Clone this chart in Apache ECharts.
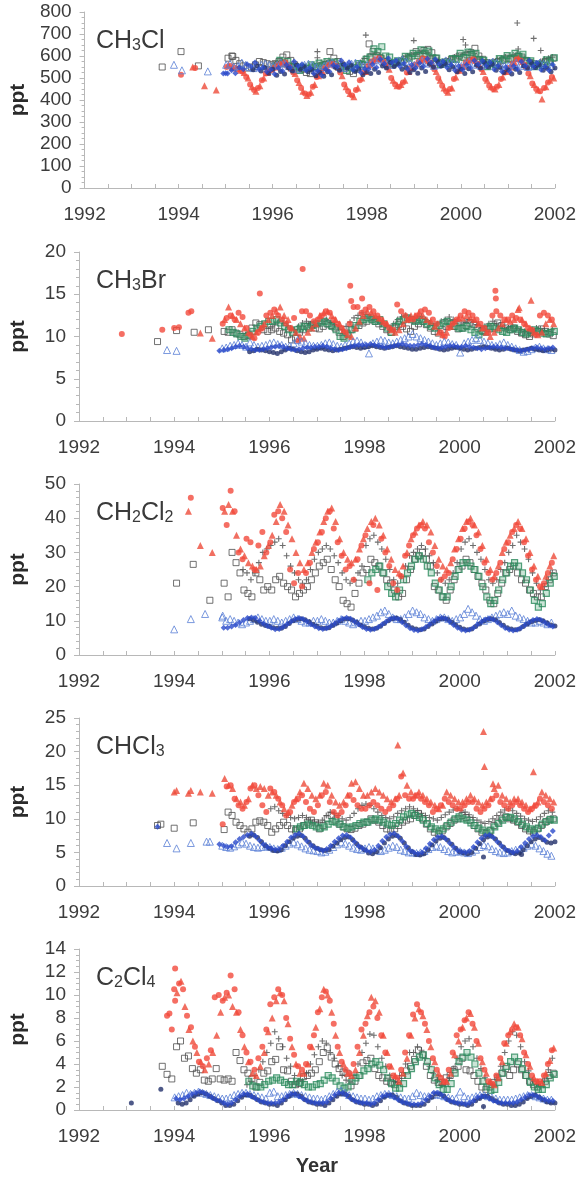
<!DOCTYPE html>
<html><head><meta charset="utf-8">
<script src="https://cdn.jsdelivr.net/npm/echarts@6/dist/echarts.min.js"></script>
<style>html,body{margin:0;padding:0;background:#fff}#c{width:579px;height:1177px}</style>
</head><body><div id="c"></div>
<script>
// ---------------- DATA (ppt) ----------------
// Monthly series arrays: 12 values per year, starting at the year given in the panel table.
// ===== CH3Cl =====
const CH3Cl_redC = [
550,555,548,540,530,505,470,445,455,490,520,535,
545,560,565,570,550,525,490,455,430,425,460,505,
525,545,560,565,555,525,470,440,420,445,490,525,
555,575,585,590,575,550,500,470,460,480,525,545,
560,575,590,585,570,540,500,465,440,450,495,530,
550,570,580,585,565,540,495,465,450,460,495,525,
545,565,585,580,560,520,475,450,440,455,480,505];
const CH3Cl_redT = [
560,550,545,535,525,500,460,440,465,500,525,540,
550,565,570,560,545,520,480,440,420,435,470,510,
530,550,565,560,550,510,460,430,415,455,500,530,
560,580,590,585,570,540,490,465,470,490,530,550,
565,580,585,580,565,530,490,455,435,455,505,535,
555,575,585,580,560,530,490,460,450,470,505,530,
550,570,590,575,555,510,470,445,405,460,490,500];
const CH3Cl_bDia = [
520,535,522,548,540,562,552,570,540,548,528,538,
518,545,532,560,548,575,555,562,535,545,520,532,
512,540,530,558,552,580,560,572,538,550,525,542,
540,562,548,585,565,590,570,580,552,565,540,560,
545,568,552,588,570,585,562,575,548,560,535,555,
538,560,545,580,562,578,556,570,540,555,530,550,
530,555,540,575,555,580,552,568,538,552,535,560];
const CH3Cl_navy = [
null,null,null,null,null,null,538,556,532,545,522,540,
512,530,518,545,532,560,540,552,528,538,510,525,
508,528,515,548,535,562,545,558,530,540,515,528,
520,540,525,555,545,570,552,565,540,548,525,538,
522,545,530,562,550,575,555,565,538,550,528,540,
520,542,528,558,545,570,550,562,535,548,525,538,
518,540,525,555,545,568,548,560,535,545,528,545];
const CH3Cl_bTri = [
560,565,550,555,570,560,550,545,555,560,565,560,
555,560,570,565,555,545,540,550,560,565,560,550,
545,555,565,570,560,550,545,555,565,570,565,555,
560,570,580,585,575,565,560,570,580,585,575,565,
560,570,580,575,565,555,560,570,580,575,565,560,
555,565,575,570,560,555,560,570,575,570,560,555,
555,560,570,565,555,550,555,565,570,565,560,555];
const CH3Cl_green = [
555,580,565,575,548,552,535,550,545,560,552,568,
555,575,568,572,550,552,535,550,545,565,562,585,
595,632,620,642,600,595,568,578,572,598,590,612,
602,628,612,622,592,590,562,572,565,588,585,612,
592,618,605,612,582,580,552,568,562,588,582,602,
588,612,598,608,578,578,552,562,558,582,572,592];
const CH3Cl_sq = [
590,600,580,565,555,545,550,560,575,570,565,560,
565,575,595,605,580,560,545,540,525,520,535,545,
550,560,620,590,575,560,545,530,520,540,560,575,
655,620,600,590,575,565,560,570,575,585,595,600,
620,610,625,630,615,590,570,565,575,585,590,600,
595,605,615,635,600,585,570,565,570,575,580,590,
585,590,600,595,580,570,565,560,565,575,580,590];
const CH3Cl_plus = [
565,575,580,570,560,550,545,540,545,555,560,565,
570,575,580,575,565,555,550,545,550,560,570,590,
600,610,615,605,590,580,575,575,580,590,600,605,
610,615,620,610,600,590,580,575,580,585,595,600,
605,615,620,610,595,585,575,570,575,585,590,595,
600,605,610,600,590,580,570,565,575,585,590,595];
// isolated samples [year, ppt]
const CH3Cl_sq_x   = [[1993.65,550],[1994.05,620],[1994.42,555],[1995.15,598]];
const CH3Cl_bTri_x = [[1993.9,560],[1994.07,535],[1994.62,530]];
const CH3Cl_redT_x = [[1994.3,550],[1994.55,465],[1994.8,445]];
const CH3Cl_redC_x = [[1994.05,515],[1994.35,545]];
const CH3Cl_bDia_x = [[1994.95,520],[1995.0,522]];
const CH3Cl_plus_x = [[1996.95,620],[1996.95,592],[1997.98,695],[1999.0,670],[2000.05,675],[2000.1,650],[2001.2,750],[2001.22,632],[2001.55,680],[2001.7,625]];

// ===== CH3Br =====
const CH3Br_redC = [
11.5,12.2,12.5,12.0,12.8,12.3,11.0,10.2,9.8,10.5,11.0,12.5,
12.8,13.2,12.5,12.0,11.5,11.0,12.2,9.5,13.0,13.0,12.5,11.8,
12.0,12.5,13.0,12.8,12.0,11.5,11.0,10.5,11.5,13.5,13.5,12.8,
13.2,13.5,13.0,12.5,12.0,11.5,11.0,10.8,13.8,13.0,12.5,12.0,
12.0,12.5,13.0,13.2,12.8,12.0,11.5,10.5,10.0,11.0,11.5,12.0,
12.5,13.0,12.8,12.5,12.0,11.5,11.0,10.5,12.5,13.0,12.5,12.0,
12.0,12.5,12.2,12.0,11.5,11.0,10.8,10.2,12.5,12.8,12.5,12.0];
const CH3Br_redT = [
12.0,13.5,12.5,12.0,11.5,11.0,10.5,10.0,10.5,11.0,11.5,12.0,
12.5,13.0,13.5,12.5,12.0,11.0,10.5,10.0,9.8,10.5,11.0,11.5,
12.5,12.8,13.0,12.5,12.0,11.5,10.8,10.2,10.0,11.0,11.8,12.5,
13.0,12.8,12.5,12.2,11.8,11.5,10.8,10.5,10.8,11.5,12.0,12.5,
12.5,12.8,12.5,12.0,11.8,11.2,10.5,10.2,10.5,11.2,11.8,12.2,
12.2,12.5,12.2,12.0,11.5,11.0,10.5,10.0,10.5,11.0,11.5,12.0,
11.8,12.0,13.2,12.0,11.5,11.0,10.5,10.2,10.5,11.5,12.0,11.5];
const CH3Br_bDia = [
8.4,8.5,8.6,8.8,8.9,8.8,8.6,8.5,8.4,8.4,8.5,8.6,
8.7,8.8,8.9,8.8,8.6,8.5,8.4,8.5,8.6,8.7,8.7,8.8,
8.8,8.9,8.8,8.6,8.5,8.4,8.5,8.6,8.8,8.9,9.0,9.0,
9.0,9.1,9.0,8.9,8.8,8.7,8.8,8.9,9.0,9.1,9.0,8.9,
8.9,9.0,9.1,9.0,8.9,8.7,8.6,8.7,8.8,8.9,8.9,8.8,
8.8,8.9,8.8,8.7,8.6,8.5,8.6,8.7,8.8,8.8,8.7,8.6,
8.6,8.5,8.4,8.3,8.4,8.5,8.6,8.7,8.6,8.5,8.6,8.7];
const CH3Br_navy = [
null,null,null,null,null,null,8.2,8.3,8.5,8.4,8.3,8.2,
8.1,8.0,8.2,8.4,8.6,8.5,8.3,8.2,8.1,8.2,8.4,8.5,
8.6,8.5,8.4,8.3,8.4,8.5,8.6,8.7,8.8,8.7,8.6,8.7,
8.8,8.9,8.8,8.7,8.6,8.7,8.8,8.9,8.8,8.7,8.6,8.5,
8.5,8.6,8.7,8.8,8.7,8.6,8.5,8.4,8.5,8.6,8.7,8.6,
8.5,8.4,8.5,8.6,8.7,8.8,8.7,8.6,8.5,8.4,8.5,8.6,
8.5,8.4,8.3,8.4,8.5,8.6,8.5,8.4,8.3,8.4,8.5,8.4];
const CH3Br_bTri = [
8.6,8.7,8.9,9.0,9.2,9.0,8.8,9.3,9.0,8.8,8.9,9.0,
9.2,9.3,9.1,9.0,8.8,8.9,9.2,9.6,9.4,9.2,9.0,8.9,
8.9,9.0,9.2,9.3,9.1,8.9,8.8,9.0,9.2,9.4,9.5,9.3,
9.0,8.0,9.2,9.4,9.6,9.5,9.3,9.2,9.4,9.6,9.8,10.0,
10.3,10.0,9.8,9.6,9.4,9.2,9.0,9.2,9.4,9.3,9.1,9.0,
8.1,9.2,9.4,9.6,9.8,9.6,9.4,9.2,9.0,8.9,9.1,9.3,
9.0,8.8,8.6,8.4,8.2,8.3,8.5,8.7,8.8,8.6,8.5,8.4];
const CH3Br_sq = [
10.6,10.5,10.8,10.4,10.2,10.0,10.1,11.0,11.6,11.4,10.8,10.6,
10.8,11.0,10.6,10.4,10.2,9.6,9.8,10.5,10.8,11.2,11.4,11.0,
10.9,11.2,11.5,11.3,11.0,10.5,10.0,10.4,10.8,11.0,11.3,11.6,
11.8,12.2,11.8,11.5,11.2,10.8,10.5,11.0,11.4,11.2,10.9,10.6,
11.2,11.5,11.8,11.4,11.0,10.6,10.4,10.8,11.2,11.5,11.2,10.9,
11.0,11.3,11.6,11.4,11.0,10.7,10.5,10.9,11.2,11.6,11.3,11.0,
10.8,11.0,10.6,10.4,10.2,10.0,10.3,10.6,10.9,10.6,10.3,10.1];
const CH3Br_green = [
null,10.8,10.5,10.3,10.0,9.8,10.2,10.6,11.0,11.2,11.5,11.8,
11.8,12.0,11.6,11.2,10.8,10.5,10.8,11.0,11.2,11.0,11.3,11.5,
11.6,11.8,11.5,11.2,10.8,10.0,9.8,10.2,10.8,11.3,11.8,12.0,
12.2,12.0,11.8,12.0,11.5,11.0,10.5,11.2,11.8,12.0,12.2,12.0,
11.8,12.0,11.8,11.5,11.2,11.0,11.3,11.6,11.8,11.5,11.2,11.0,
11.0,11.2,10.8,10.5,10.2,10.6,11.0,11.2,11.0,10.8,10.6,10.5,
10.8,11.0,10.8,10.5,10.3,10.5,10.8,10.6,10.4,10.3,10.5,10.6];
const CH3Br_plus = [
11.0,11.5,11.8,11.6,11.3,11.0,10.8,11.2,11.6,11.8,11.5,11.3,
11.5,11.8,12.0,11.7,11.4,11.0,10.8,11.2,11.7,12.2,12.5,12.8,
12.6,12.3,12.0,11.8,11.5,11.3,11.0,11.5,12.0,12.3,12.5,12.2,
12.0,12.2,12.4,12.0,11.6,11.3,11.5,11.8,12.0,12.3,12.0,11.8,
11.6,11.8,12.0,11.7,11.4,11.0,11.2,11.5,11.8,11.5,11.2,11.0,
11.0,11.2,11.0,10.8,10.6,10.5,10.8,11.0,10.9,10.7,10.6,10.8];
const CH3Br_redC_x = [[1992.9,10.3],[1993.75,10.8],[1994.0,11.0],[1994.1,11.1],[1994.3,12.8],[1994.36,13.0],[1995.8,15.1],[1996.7,18.0],[1997.7,16.0],[1997.72,14.2],[1997.95,14.5],[2000.75,15.4],[2000.76,14.5]];
const CH3Br_redT_x = [[1994.55,10.4],[1994.8,9.8],[2001.5,14.3],[2001.25,13.4]];
const CH3Br_sq_x   = [[1993.65,9.4],[1994.05,10.7],[1994.42,10.5],[1994.72,10.8]];
const CH3Br_bTri_x = [[1993.85,8.4],[1994.05,8.3]];
const CH3Br_bDia_x = [[1994.95,8.3]];

// ===== CH2Cl2 =====
const CH2Cl2_redC = [
43,38,48,42,30,28,34,33,25,32,36,30,
33,41,42,40,36,25,21,24,20,24,27,31,
33,36,40,42,37,33,29,25,26,22,28,32,
35,21,38,19,34,30,26,21,19,23,29,32,
35,37,38,37,33,30,26,22,23,24,28,31,
34,37,39,38,35,31,27,24,22,24,27,31,
33,36,38,37,33,29,25,22,20,21,24,27];
const CH2Cl2_redT = [
42,44,42,35,31,29,27,26,25,26,29,32,
35,39,44,42,38,34,30,27,25,27,30,33,
36,39,42,43,39,34,30,28,27,28,31,34,
37,39,40,38,35,31,28,25,24,26,30,34,
36,38,39,38,36,32,28,26,25,27,31,34,
37,39,40,38,36,32,28,25,23,26,30,33,
35,37,39,37,34,30,26,23,20,23,26,29];
const CH2Cl2_plus = [
null,null,null,null,null,25,24,22,24,27,30,31,
32,33,34,32,29,26,24,22,21,22,25,28,
30,31,32,31,29,27,24,22,21,22,24,26,
32,34,35,33,31,28,25,22,21,23,26,29,
30,31,32,31,29,27,24,22,21,22,24,27,
31,33,34,32,30,28,25,22,21,22,25,27,
30,32,35,33,31,28,24,21,19,20,22,24];
const CH2Cl2_sq = [
21,17,30,27,24,19,18,17,24,22,19,20,
19,22,23,21,20,19,17,18,19,20,22,24,
26,27,28,25,22,20,16,15,14,18,21,24,
25,28,27,26,24,22,21,19,17,18,22,25,
28,29,30,28,26,20,19,17,16,19,22,25,
26,28,27,25,23,21,19,16,15,18,21,24,
25,26,24,22,21,19,18,17,17,20,22,24];
const CH2Cl2_green = [
22,24,25,26,24,20,18,17,19,22,24,26,
28,29,28,26,24,21,19,17,17,20,23,25,
27,27,26,25,23,20,17,15,16,19,22,24,
26,27,26,24,22,19,16,14,15,18,21,23];
const CH2Cl2_bTri = [
11,10,10.5,10,9.5,9,9.5,10,10.5,11,10.5,10,
10,10.5,10,9.5,10,10.5,11,10.5,10,9.5,9.5,10,
10,10.5,10,9.5,9.5,10,10.5,10,9.5,9,9.5,10,
10,10.5,11,11.5,12.5,13,12,11,10.5,10.5,11,12,
13,12.5,12,11,10.5,10,10.5,11,11,10.5,10,10.5,
11,12,13.5,12.5,11.5,10.5,10,10.5,11,11.5,12,12.5,
12,13,11.5,11,10.5,10,9.5,9.5,10,9.5,9,9.5];
const CH2Cl2_bDia = [
8.0,8.0,8.3,8.8,9.5,10.2,10.8,11.0,10.8,10.0,9.2,8.5,
8.0,7.5,7.6,8.2,9.0,9.8,10.5,10.8,10.5,9.8,9.0,8.3,
7.8,7.6,7.8,8.4,9.2,10.0,10.6,10.9,10.6,9.8,9.0,8.2,
7.6,7.4,7.6,8.2,9.0,9.8,10.5,10.8,10.5,9.6,8.6,7.8,
7.3,7.2,7.5,8.2,9.0,9.9,10.6,10.9,10.6,9.8,8.8,8.0,
7.4,7.2,7.4,8.0,8.9,9.7,10.4,10.7,10.4,9.6,8.7,7.9,
7.4,7.2,7.4,8.0,8.8,9.6,10.2,10.5,10.2,9.5,8.8,8.3];
const CH2Cl2_navy = [
null,null,null,null,null,null,10.6,10.2,9.6,9.0,8.6,8.3,
8.0,7.8,7.8,8.3,9.2,10.0,10.4,10.6,10.3,9.7,9.0,8.4,
8.0,7.8,8.0,8.6,9.3,10.0,10.5,10.6,10.2,9.6,8.8,8.2,
7.8,7.6,7.8,8.4,9.2,10.0,10.6,10.8,10.4,9.6,8.7,8.0,
7.6,7.4,7.6,8.3,9.1,9.9,10.5,10.7,10.4,9.6,8.8,8.1,
7.6,7.4,7.6,8.3,9.1,9.9,10.4,10.6,10.3,9.5,8.7,8.0,
7.6,7.4,7.6,8.3,9.0,9.7,10.1,10.3,10.0,9.4,8.8,8.5];
const CH2Cl2_redT_x = [[1994.3,42],[1994.55,32],[1994.8,30]];
const CH2Cl2_redC_x = [[1994.35,46]];
const CH2Cl2_sq_x   = [[1994.05,21],[1994.4,26.5],[1994.75,16]];
const CH2Cl2_bTri_x = [[1994.0,7.5],[1994.35,10.5],[1994.65,12],[1995.02,11.5]];

// ===== CHCl3 =====
const CHCl3_redT = [
16,15,14.5,13,12.5,12,13,15,14.5,14.8,14.5,13.5,
14,13.5,12.5,11.5,11,12,13,14,15.3,14.5,13.5,13,
13.5,15.3,15,13.5,12.5,12,12.5,13.5,15.3,15.5,14.5,13.5,
13.5,14,14.5,14,13.5,13,12.5,13,13.5,16.8,15,14,
13.5,14,13.5,13,12.5,12,11.5,12,14,13.5,13,12.5,
12.5,13,13.5,13,12.5,12,12.5,13,14.5,15,13.5,13,
12.5,13,13,12.5,12,11.5,12,12.5,14,13.5,13,12.5];
const CHCl3_redC = [
9.2,14.8,15,13,12,11.5,12.5,14.5,15,13.5,12,11,
14.5,14,13,12,10.5,11,12.5,13,13.5,12.5,11.5,11,
12,13.5,14,12.5,11,10.5,11,12,13.5,12.8,12,11.5,
11.5,12,12.5,12,11.5,11,11.5,12,13,16.3,13.5,13,
13,13.5,13,12.5,12,11,11.5,12,13,12.5,12,11.5,
11.5,12,12.5,12.5,11.5,11,11.5,12,13,13.5,12.5,12,
11.5,12,12.5,12,11.5,11,11.5,12,13,12.5,12,11.5];
const CHCl3_sq = [
8.4,11,10.5,9.5,9,8.5,8,8.5,9.5,9.7,9.5,9,
8,8.5,9,9.5,9,8.5,8.3,8.5,9,9.5,9.8,9.4,
8.5,9,10,10.5,9.8,9.2,8.8,8.5,8.4,8.6,9,9.2,
9.5,10,9.8,9.5,9,8.5,8.3,8.5,9,9.5,9.8,10,
10.5,10.8,10,9.2,8.5,8,7.8,8.2,8.8,9.3,9.8,10,
10.5,10.2,9.8,9,8.5,8,7.8,8.2,9,9.5,10,10.3,
10,9.8,9.5,9,8.5,8.2,8,8.5,9,9.5,9.8,10];
const CHCl3_green = [
null,null,null,null,null,null,8.5,8.8,9.0,9.2,9.0,8.8,
8.6,8.8,9.2,9.6,9.5,9.2,8.8,8.6,8.8,9.0,9.3,9.5,
9.5,9.8,10,9.8,9.5,9.2,9,9.3,9.8,10.3,10.6,10.8,
10.5,10.2,9.8,9.3,8.8,8.5,8.2,8.5,9,9.5,10,10.3,
10,9.8,9.4,9,8.6,8.3,8,8.3,8.8,9.3,9.8,10.2,
10.2,10,9.6,9.2,8.8,8.5,8.3,8.6,9.2,9.6,9.9,9.8];
const CHCl3_plus = [
11.5,11.8,11.2,10.8,10.5,10.2,10,10.2,10.5,10.2,9.8,9.5,
9.5,9.8,10.5,11,10.8,10.5,10,9.8,10.2,10.8,11.5,12,
12.2,12,11.5,11,10.5,10.2,10,10.3,10.8,11.2,11.5,11.8,
11.5,11.2,10.8,10.5,10.2,10,9.8,10.2,10.6,11,11.3,11.5,
11.2,11,10.6,10.2,9.8,9.5,9.3,9.6,10,10.5,11,11.3,
11.5,11.2,10.8,10.4,10,9.8,9.6,9.9,10.3,10.8,11.2,11];
const CHCl3_bTri = [
6,5.8,5.7,5.9,6.2,6.5,6.3,6,5.8,5.7,5.8,6,
5.8,5.6,5.5,5.7,6,6.3,6.5,6.2,5.9,5.6,5.4,5.3,
5.2,5,5.1,5.4,5.8,6.2,6.5,6.3,6,5.7,5.5,5.4,
5.6,5.8,5.6,5.3,5.2,5.4,5.7,6,5.8,5.4,5.2,5.0,
5,4.9,5,5.2,5.5,5.8,6,5.8,5.5,5.2,5,5.1,
5.2,5,4.9,5.1,5.4,5.8,6.1,5.9,5.5,5.2,5,4.9,
5,5.2,5.4,5.5,5.7,6,6.2,6,5.6,5.2,4.8,4.5];
const CHCl3_bDia = [
6,5.8,5.9,6.5,7,7.3,7.6,7.8,7.4,6.8,6.2,5.8,
5.6,5.4,5.5,6,6.6,7.2,7.6,7.8,7.4,6.7,6.1,5.7,
5.5,5.3,5.5,6,6.6,7.1,7.5,7.6,7.2,6.6,6,5.6,
5.3,5.1,5.4,6,6.7,7.3,7.7,7.8,7.4,6.7,5.9,5.3,
5,4.8,5,5.6,6.3,6.9,7.3,7.4,7,6.4,5.8,5.3,
5.1,5,5.2,5.8,6.5,7.1,7.5,7.6,7.2,6.6,6,5.5,
5.2,5,5.2,5.8,6.4,7,7.4,7.6,7.3,6.8,7.5,8.2];
const CHCl3_navy = [
null,null,null,null,null,null,7.4,7.6,7.2,6.6,6,5.6,
5.3,5.2,5.4,6,6.6,7.1,7.4,7.5,7.1,6.5,6,5.6,
5.4,5.3,5.4,5.9,6.4,6.9,7.2,7.3,6.9,6.3,5.8,5.4,
4.9,4.8,5.1,5.7,6.4,7,7.4,7.5,7.1,6.4,5.7,5.1,
4.7,4.6,4.8,5.4,6.1,6.7,7.1,7.2,6.8,6.2,5.6,5.1,
4.9,4.8,5,5.6,6.3,6.9,7.3,7.4,7,6.4,5.8,5.3,
5,4.8,4.9,5.4,6,6.6,7,7.2,6.9,6.5,6.4,6.6];
const CHCl3_redT_x = [[1994.0,14],[1994.05,14.2],[1994.3,13.8],[1994.35,14.2],[1994.55,14],[1994.8,13.8],[1998.7,21],[2000.5,23],[2000.52,17.8],[2001.55,17],[2000.7,15.2]];
const CHCl3_sq_x   = [[1993.65,9],[1993.72,9.2],[1994.0,8.6],[1994.4,9.4]];
const CHCl3_bTri_x = [[1993.85,6.4],[1994.05,5.6],[1994.35,6.4],[1994.68,6.6],[1994.75,6.6]];
const CHCl3_bDia_x = [[1993.65,8.8],[1994.95,6.2]];
const CHCl3_navy_x = [[2000.5,4.3],[2001.3,4.7]];

// ===== C2Cl4 (monthly from 1994) =====
const C2Cl4_redC = [
12.3,11,10.5,8.2,7.2,5.5,4.2,3.8,4.5,5.2,9.8,10,
9.5,10.2,11.7,10.5,8.5,6.5,5,4.2,3.5,4.5,5.5,7,
9.2,9.8,10.5,10,8,6.2,4.8,3.8,3.5,4,5.5,6.5,
8.5,9.8,10.3,9.5,7.5,5.5,4.2,3.5,3.2,4,5.5,7,
7.5,8.5,9,8,6.5,5,3.8,3,2.8,3.5,5,6.5,
8.3,9.2,8.5,7.5,6,4.5,3.5,2.8,2.5,3.5,5,6.5,
7,7.8,8.5,7.5,6,4.5,3.5,2.5,2.3,3,4.5,5.8,
6.5,7,7.2,6.5,5,4,3,2.5,2.5,3,4,5.2];
const C2Cl4_redT = [
10.2,11.2,9,7,6,5,4.2,3.5,4,5,6.5,8.5,
9.8,10,9,8.5,7,5.5,4.2,3.2,3,3.8,5,6.8,
8,9.5,10.2,9.5,7.5,5.5,4,3.2,3.2,4,5.5,7.2,
8.8,10.5,10,8.5,6.5,5,4,3.2,3,3.5,5,6.5,
8.2,9.8,9.5,8.5,6.5,5,3.8,3,2.5,3.2,4.5,6.5,
8,8.8,8.2,7,5.5,4.2,3.2,2.5,2.5,3.2,4.8,6,
7.2,8,8.4,7.2,5.8,4.2,3.2,2.5,2.2,2.8,4.2,5.8,
6.8,7.5,7.2,6.2,4.8,3.8,2.8,2.5,2.4,3.2,4.3,5.4];
const C2Cl4_plus = [
null,null,null,null,null,null,2.2,2.5,3,3.5,4.2,5,
5.8,6.8,6.2,5.5,4.5,3.8,3,2.5,2.5,3.2,4,4.8,
5.5,6,5.8,5,4.5,3.8,3,2.6,2.5,3,4,5,
5.8,6.6,6.5,5.5,4.5,3.8,3,2.5,2.4,3,4,5,
5,5.5,5.2,4.5,3.8,3.2,2.6,2.2,2.2,2.8,3.6,4.5,
5.5,6,6.2,5.5,4.5,3.6,2.8,2.3,2.2,2.8,3.8,5,
6,6.8,6.5,5.5,4.2,3.4,2.6,2.2,2.1,2.6,3.5,4.5];
const C2Cl4_sq = [
5.5,6,4.5,4.7,3.6,3.2,3.5,2.6,2.5,2.7,3.6,2.7,
2.6,2.7,2.5,5,4.3,3.5,3.2,2.7,2,2.4,3.2,3.4,
4.2,4.4,5.5,3.5,3.4,2.5,2.2,2.3,2.9,3,3.2,3.5,
4.2,5,5.4,4.6,4,3.6,3.3,3.2,2.1,2.5,3,4.1,
4.3,4.5,3.6,3,2.8,2.5,2.4,2.2,2.5,3,3.4,3.8,
4.4,5.2,4.8,3.8,3,2.6,2.4,2.4,2.8,3,3.5,3.8,
4.5,3.5,3.4,3,2.5,2,1.8,2,2.4,2.8,3.2,3.6,
3,3.5,4,3.5,3,2.5,2.2,2,2.2,2.5,3,3.2];
const C2Cl4_green = [
null,null,null,null,null,null,2.5,2.1,2.0,2.0,2.2,2.5,
2.6,2.8,2.6,2.4,2.2,2.2,2.5,2.4,2.2,2.0,2.0,2.2,
2.3,2.6,3.0,2.8,2.5,2.1,1.9,2.0,2.5,2.8,3.0,3.4,
3.6,4.0,4.2,3.9,3.5,2.8,2.3,1.9,1.9,2.3,3.0,3.6,
4.2,4.6,4.8,4.2,3.5,2.8,2.2,1.8,1.8,2.3,3.2,4.2,
4.6,5.0,4.6,4.0,3.2,2.5,2.0,1.7,1.8,2.4,3.2,3.8,
4.2,4.6,4.2,3.6,3.0,2.4,2.0,1.8,1.8,2.2,2.8,3.1];
const C2Cl4_bTri = [
1.1,1.2,1.3,1.5,1.4,1.5,1.6,1.5,1.4,1.3,1.2,1.1,
1.0,1.0,1.1,1.3,1.4,1.5,1.5,1.4,1.3,1.2,1.1,1.0,
1.5,1.6,1.2,1.2,1.3,1.4,1.5,1.4,1.3,1.2,1.1,1.0,
1.0,0.9,1.0,1.2,1.4,1.6,1.7,1.5,1.3,1.2,1.1,1.0,
1.0,0.9,1.0,1.2,1.3,1.4,1.4,1.3,1.2,1.1,1.0,1.0,
1.2,1.5,1.3,1.2,1.2,1.3,1.4,1.3,1.2,1.1,1.0,1.0,
1.6,1.2,1.0,1.1,1.2,1.3,1.3,1.2,1.1,1.0,0.9,0.9,
0.9,0.9,1.0,1.1,1.2,1.3,1.3,1.2,1.1,1.0,0.9,0.9];
const C2Cl4_bDia = [
1.0,0.9,1.0,1.2,1.4,1.5,1.6,1.5,1.3,1.1,0.9,0.8,
0.6,0.5,0.6,0.9,1.2,1.4,1.4,1.2,1.0,0.8,0.7,0.6,
0.6,0.6,0.7,0.9,1.2,1.4,1.4,1.2,1.0,0.8,0.7,0.6,
0.6,0.6,0.7,1.0,1.3,1.5,1.5,1.3,1.0,0.8,0.7,0.6,
0.6,0.5,0.6,0.9,1.2,1.3,1.3,1.1,0.9,0.7,0.6,0.5,
0.5,0.5,0.6,0.9,1.2,1.5,1.5,1.3,1.0,0.8,0.7,0.6,
0.6,0.5,0.6,0.8,1.1,1.2,1.2,1.0,0.8,0.7,0.6,0.6,
0.6,0.6,0.7,0.9,1.1,1.3,1.3,1.2,1.0,0.9,0.8,0.8];
const C2Cl4_navy = [
0.6,0.5,0.6,0.9,1.2,1.4,1.5,1.4,1.2,1.0,0.8,0.6,
0.4,0.4,0.5,0.8,1.1,1.3,1.3,1.1,0.9,0.7,0.6,0.5,
0.5,0.4,0.6,0.9,1.2,1.4,1.4,1.2,0.9,0.7,0.6,0.5,
0.5,0.4,0.6,0.9,1.2,1.4,1.4,1.2,0.9,0.7,0.6,0.5,
0.5,0.4,0.5,0.8,1.1,1.3,1.3,1.1,0.8,0.6,0.5,0.4,
0.4,0.4,0.5,0.8,1.1,1.4,1.4,1.2,0.9,0.7,0.6,0.5,
0.5,0.4,0.5,0.8,1.0,1.2,1.2,1.0,0.8,0.6,0.5,0.5,
0.4,0.4,0.5,0.7,1.0,1.2,1.3,1.1,0.9,0.7,0.6,0.6];
const C2Cl4_redC_x = [[1993.85,8.2],[1993.9,8.4],[1993.95,7.0],[1994.0,10.5],[1994.02,9.5]];
const C2Cl4_sq_x   = [[1993.75,3.8],[1993.85,3.1],[1993.95,2.7]];
const C2Cl4_navy_x = [[1993.1,0.6],[1993.72,1.8],[2000.5,0.3]];

const xTickYears = [1992, 2002];

// ---------------- CHART ----------------
function M(start, vals, phase) {
  const out = [];
  vals.forEach((v, i) => { if (v != null) out.push([start + i / 12 + phase, v]); });
  return out;
}
const STY = {
  sq:   {symbol:'rect', size:6, z:2, itemStyle:{color:'rgba(255,255,255,0)', borderColor:'#4d4d4d', borderWidth:1}},
  plus: {symbol:'path://M0,5L10,5M5,0L5,10', size:6, z:3, itemStyle:{color:'rgba(0,0,0,0)', borderColor:'#4a4a4a', borderWidth:1.1}},
  green:{symbol:'rect', size:6, z:4, itemStyle:{color:'rgba(70,160,110,0.35)', borderColor:'#2a8a5c', borderWidth:1.2}},
  redT: {symbol:'triangle', size:7, z:5, itemStyle:{color:'#ee4b39'}},
  redC: {symbol:'circle', size:6, z:5, itemStyle:{color:'#f24a3c'}},
  bTri: {symbol:'triangle', size:7, z:6, itemStyle:{color:'rgba(255,255,255,0)', borderColor:'#5a7fd6', borderWidth:1}},
  navy: {symbol:'circle', size:5, z:7, itemStyle:{color:'#22306a'}},
  bDia: {symbol:'diamond', size:6, z:8, itemStyle:{color:'#2a4acb'}}
};
const PH = {sq:0.05, plus:0.03, green:0.07, redT:0.06, redC:0.02, bTri:0.01, bDia:0.04, navy:0.085};

const panels = [
  {title:'{a|CH}{s|3}{a|Cl}', top:12, height:176, max:800, step:100, minor:4,
   sets:{sq:[1995,CH3Cl_sq,CH3Cl_sq_x], plus:[1996,CH3Cl_plus,CH3Cl_plus_x], green:[1996,CH3Cl_green,[]],
         redT:[1995,CH3Cl_redT,CH3Cl_redT_x], redC:[1995,CH3Cl_redC,CH3Cl_redC_x], bTri:[1995,CH3Cl_bTri,CH3Cl_bTri_x],
         navy:[1995,CH3Cl_navy,[]], bDia:[1995,CH3Cl_bDia,CH3Cl_bDia_x]}},
  {title:'{a|CH}{s|3}{a|Br}', top:252, height:169, max:20, step:5, minor:5,
   sets:{sq:[1995,CH3Br_sq,CH3Br_sq_x], plus:[1996,CH3Br_plus,[]], green:[1995,CH3Br_green,[]],
         redT:[1995,CH3Br_redT,CH3Br_redT_x], redC:[1995,CH3Br_redC,CH3Br_redC_x], bTri:[1995,CH3Br_bTri,CH3Br_bTri_x],
         navy:[1995,CH3Br_navy,[]], bDia:[1995,CH3Br_bDia,CH3Br_bDia_x]}},
  {title:'{a|CH}{s|2}{a|Cl}{s|2}', top:484, height:171, max:50, step:10, minor:5,
   sets:{sq:[1995,CH2Cl2_sq,CH2Cl2_sq_x], plus:[1995,CH2Cl2_plus,[]], green:[1998,CH2Cl2_green,[]],
         redT:[1995,CH2Cl2_redT,CH2Cl2_redT_x], redC:[1995,CH2Cl2_redC,CH2Cl2_redC_x], bTri:[1995,CH2Cl2_bTri,CH2Cl2_bTri_x],
         navy:[1995,CH2Cl2_navy,[]], bDia:[1995,CH2Cl2_bDia,[]]}},
  {title:'{a|CHCl}{s|3}', top:718, height:168, max:25, step:5, minor:5,
   sets:{sq:[1995,CHCl3_sq,CHCl3_sq_x], plus:[1996,CHCl3_plus,[]], green:[1996,CHCl3_green,[]],
         redT:[1995,CHCl3_redT,CHCl3_redT_x], redC:[1995,CHCl3_redC,[]], bTri:[1995,CHCl3_bTri,CHCl3_bTri_x],
         navy:[1995,CHCl3_navy,CHCl3_navy_x], bDia:[1995,CHCl3_bDia,CHCl3_bDia_x]}},
  {title:'{a|C}{s|2}{a|Cl}{s|4}', top:949, height:164, max:14, step:2, minor:4,
   sets:{sq:[1994,C2Cl4_sq,C2Cl4_sq_x], plus:[1995,C2Cl4_plus,[]], green:[1995,C2Cl4_green,[]],
         redT:[1994,C2Cl4_redT,[]], redC:[1994,C2Cl4_redC,C2Cl4_redC_x], bTri:[1994,C2Cl4_bTri,[]],
         navy:[1994,C2Cl4_navy,C2Cl4_navy_x], bDia:[1994,C2Cl4_bDia,[]]}}
];

const FONT = 'Liberation Sans, Arial, Helvetica, sans-serif';
const AX = '#b8b8b8';
const grid = [], xAxis = [], yAxis = [], series = [], title = [];
panels.forEach((p, i) => {
  grid.push({left:76, right:23, top:p.top, height:p.height});
  xAxis.push({
    gridIndex:i, type:'value', min:xTickYears[0], max:xTickYears[1], interval:2,
    axisLine:{show:true, onZero:false, lineStyle:{color:AX, width:1}},
    axisTick:{show:true, inside:true, length:4, lineStyle:{color:AX}},
    minorTick:{show:true, splitNumber:4, length:4, lineStyle:{color:AX}},
    splitLine:{show:false},
    axisLabel:{fontSize:19, color:'#3c3c3c', margin:17, fontFamily:FONT, formatter:v=>String(v)},
    name: i === 4 ? 'Year' : '', nameLocation:'middle', nameGap:46,
    nameTextStyle:{fontSize:20, fontWeight:'bold', color:'#333', fontFamily:FONT}
  });
  yAxis.push({
    gridIndex:i, type:'value', min:0, max:p.max, interval:p.step,
    axisLine:{show:true, lineStyle:{color:AX, width:1}},
    axisTick:{show:true, length:5, lineStyle:{color:AX}},
    minorTick:{show:true, splitNumber:p.minor, length:3, lineStyle:{color:AX}},
    splitLine:{show:false},
    axisLabel:{fontSize:19, color:'#3c3c3c', margin:13, fontFamily:FONT},
    name:'ppt', nameLocation:'middle', nameRotate:90, nameGap:50,
    nameTextStyle:{fontSize:21, fontWeight:'bold', color:'#2a2a2a', fontFamily:FONT}
  });
  title.push({
    text:p.title, left:91, top:p.top + 7,
    textStyle:{fontWeight:'normal', rich:{
      a:{fontSize:25, fontWeight:'normal', color:'#3a3a3a', fontFamily:FONT, lineHeight:30, verticalAlign:'bottom'},
      s:{fontSize:16, fontWeight:'normal', color:'#3a3a3a', fontFamily:FONT, lineHeight:12, verticalAlign:'bottom'}
    }}
  });
  Object.keys(STY).forEach(k => {
    const s = p.sets[k]; if (!s) return;
    const st = STY[k];
    series.push({
      type:'scatter', xAxisIndex:i, yAxisIndex:i, silent:true, z:st.z,
      symbol:st.symbol, symbolSize:st.size, itemStyle:st.itemStyle,
      data: M(s[0], s[1], PH[k]).concat(s[2])
    });
  });
});

const chart = echarts.init(document.getElementById('c'), null, {renderer:'canvas'});
chart.setOption({animation:false, backgroundColor:'#fff', title, grid, xAxis, yAxis, series});
</script>
</body></html>
